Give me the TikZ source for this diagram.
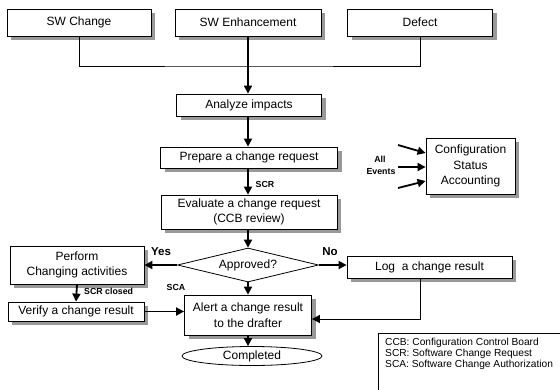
\documentclass[tikz,border=0pt]{standalone}
\usepackage{fontspec}
\setmainfont{Liberation Sans}
\usetikzlibrary{arrows.meta,shapes.geometric,shadows,calc}
\begin{document}
\begin{tikzpicture}[x=1pt,y=-1pt,
  box/.style={draw, line width=0.8pt, fill=white, inner sep=0pt, align=center,
    font=\fontsize{12}{15.5}\selectfont,
    drop shadow={shadow xshift=4pt, shadow yshift=-4pt, fill=black!40, opacity=1}},
  plain/.style={draw, line width=0.8pt, fill=white, inner sep=0pt, align=center,
    font=\fontsize{12}{15.5}\selectfont},
  arr/.style={line width=1.8pt, -{Triangle[length=8pt,width=8pt]}},
  thinarr/.style={line width=0.8pt, -{Triangle[length=8pt,width=8pt]}},
  thin/.style={line width=0.8pt},
  lab/.style={font=\fontsize{8.8}{10.5}\selectfont\bfseries, inner sep=0pt},
  yn/.style={font=\fontsize{11.5}{13}\selectfont\bfseries, inner sep=0pt}
]
\useasboundingbox (0,0) rectangle (560,389);
\clip (0,0) rectangle (560,389);

% top row
\node[box, minimum width=144pt, minimum height=27pt] (swc) at (79,22.5) {SW Change};
\node[box, minimum width=146pt, minimum height=27pt] (swe) at (248,22.5) {SW Enhancement};
\node[box, minimum width=145pt, minimum height=27pt] (def) at (420,22.5) {Defect};
\coordinate (j) at (248,66);

% main column
\node[box, minimum width=145pt, minimum height=22pt] (ana) at (249,105) {Analyze impacts};
\node[box, minimum width=177pt, minimum height=21pt] (prep) at (249,157.5) {Prepare a change request};
\node[box, minimum width=176pt, minimum height=34pt] (eval) at (249,212) {Evaluate a change request\\(CCB review)};
\node[plain, diamond, minimum width=141pt, minimum height=34pt, aspect=4.2] (appr) at (248,265) {Approved?};
\node[box, minimum width=134pt, minimum height=38pt] (perf) at (77,265) {Perform\\Changing activities};
\node[box, minimum width=165pt, minimum height=22pt] (log) at (429.5,267) {Log \ a change result};
\node[box, minimum width=89pt, minimum height=56pt] (csa) at (470.5,166) {Configuration\\Status\\Accounting};
\node[box, minimum width=136pt, minimum height=19pt] (ver) at (76,311.5) {Verify a change result};
\node[box, minimum width=127pt, minimum height=40pt] (alert) at (248,315) {Alert a change result\\to the drafter};
\node[plain, ellipse, minimum width=140pt, minimum height=19pt] (comp) at (252,356) {Completed};

% legend
\node[anchor=north west, align=left, inner sep=0pt, font=\fontsize{10.2}{11}\selectfont] (legend) at (385,337.5)
  {CCB: Configuration Control Board\\SCR: Software Change Request\\SCA: Software Change Authorization};
\draw[thin] ($(legend.north west)+(-7,-4.5)$) rectangle (575,400);

% connectors
\draw[thin] (swc.south) |- (j) -| (def.south);
\draw[arr] (swe.south) -- (swe.south |- ana.north);
\draw[arr] (swe.south |- ana.south) -- (swe.south |- prep.north);
\draw[arr] (swe.south |- prep.south) -- (swe.south |- eval.north);
\draw[arr] (swe.south |- eval.south) -- (appr.north);
\draw[arr] (appr.west) -- (appr.west -| perf.east);
\draw[arr] (appr.east) -- (appr.east -| log.west);
\draw[arr] (appr.south) -- (appr.south |- alert.north);
\draw[arr] (perf.south) -- (ver.north);
\draw[arr] (ver.east) -- (ver.east -| alert.west);
\draw[thinarr] (log.south -| def.south) |- ($(alert.east)+(0,4)$);
\draw[arr] (alert.south) -- (alert.south |- comp.north);

% all events
\coordinate (e1) at (398,145);
\coordinate (e2) at (398,167);
\coordinate (e3) at (398,188);
\draw[arr] (e1) -- ($(csa.west)+(0,-13)$);
\draw[arr] (e2) -- ($(csa.west)+(0,1)$);
\draw[arr] (e3) -- ($(csa.west)+(0,15)$);

% labels
\node[lab] (scr) at (265,184) {SCR};
\node[yn] (yes) at (161,252) {Yes};
\node[yn] (no) at (330,252) {No};
\node[lab] (sca) at (176,287) {SCA};
\node[lab, anchor=west] (scrc) at (84,291) {SCR closed};
\node[lab] (all) at (380,159) {All};
\node[lab] (ev) at (381,172) {Events};
\end{tikzpicture}
\end{document}
